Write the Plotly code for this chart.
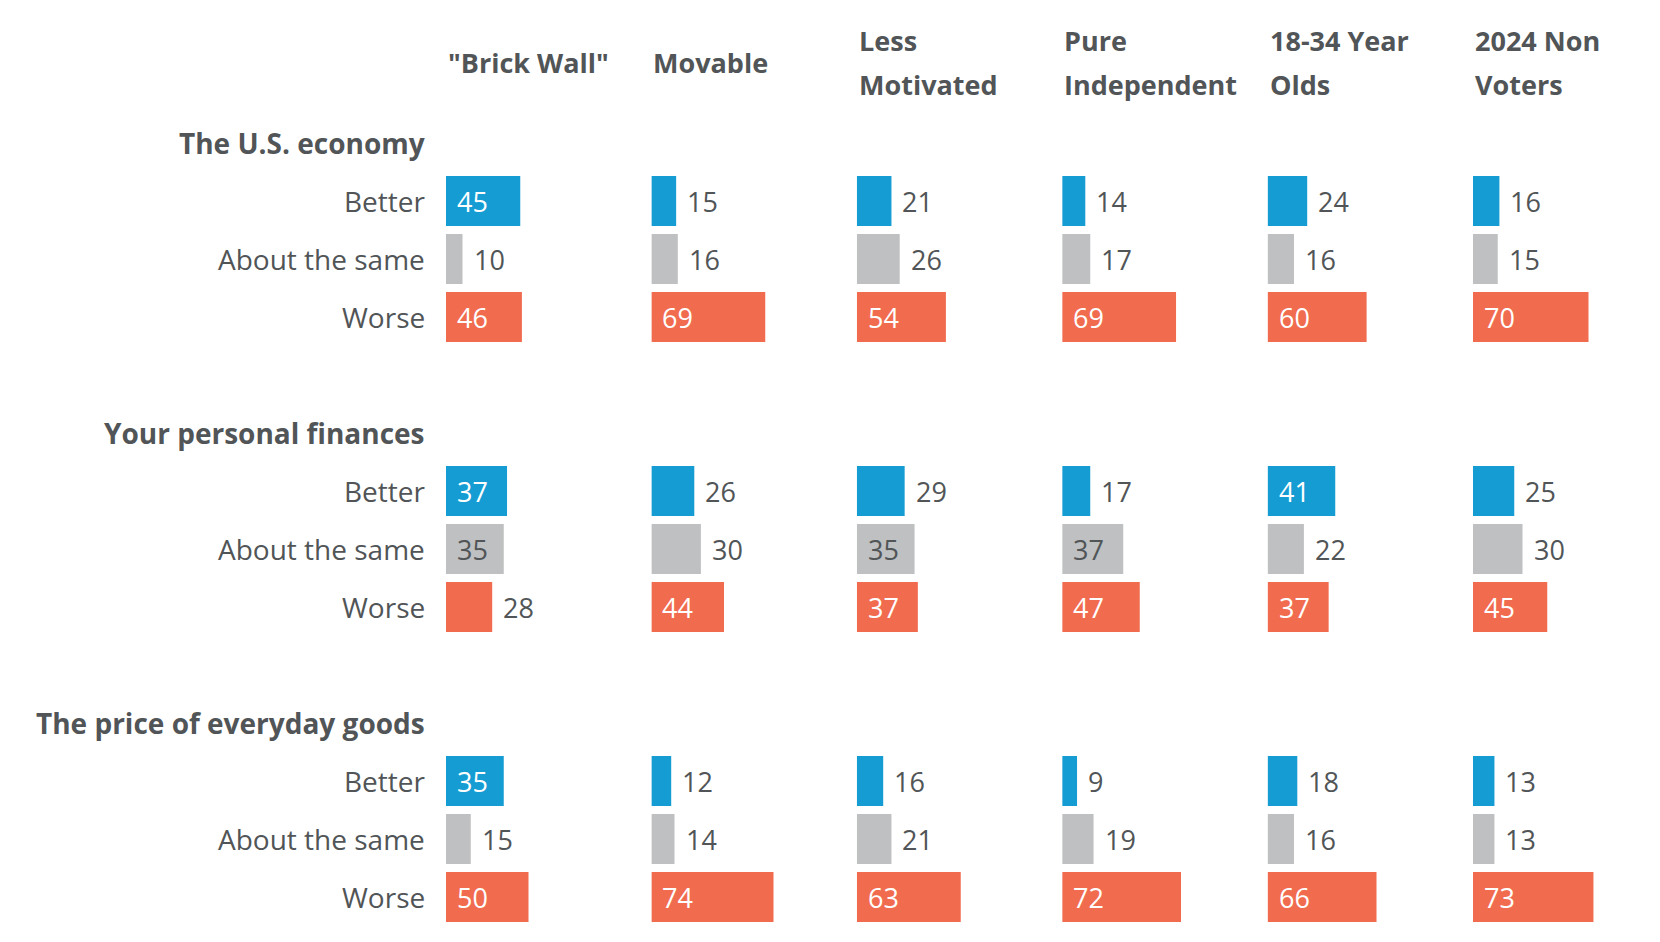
import plotly.graph_objects as go

# survey groups (column headers) and question topics
groups = ['"Brick Wall"', "Movable", "Less<br>Motivated", "Pure<br>Independent",
          "18-34 Year<br>Olds", "2024 Non<br>Voters"]
topics = ["The U.S. economy", "Your personal finances", "The price of everyday goods"]
responses = ["Better", "About the same", "Worse"]

# values per topic, one entry per group
better = [[45, 15, 21, 14, 24, 16],
          [37, 26, 29, 17, 41, 25],
          [35, 12, 16, 9, 18, 13]]
same = [[10, 16, 26, 17, 16, 15],
        [35, 30, 35, 37, 22, 30],
        [15, 14, 21, 19, 16, 13]]
worse = [[46, 69, 54, 69, 60, 70],
         [28, 44, 37, 47, 37, 45],
         [50, 74, 63, 72, 66, 73]]

# the html page keeps the default 8px body margin, so lay out in page pixels minus it
OFF = 8
W, H = 1660 - OFF, 942 - OFF
COLORS = {"Better": "#149cd3", "About the same": "#bec0c1", "Worse": "#f16b4f"}
INSIDE_TEXT = {"Better": "white", "About the same": "#515557", "Worse": "white"}
TEXT = "#515557"
FONT = "Open Sans"
FS = 27          # numbers and column headers
FS_LEFT = 28     # row labels and topic titles
PX_PER_UNIT = 1.65
COL_LEFT, COL_STEP, COL_W = 446 - OFF, 205.4, 185
ROW0, ROW_STEP = 143 - OFF, 58    # pixel y of first topic title, slot pitch
LABEL_RIGHT = 427 - OFF

series = {"Better": better, "About the same": same, "Worse": worse}

fig = go.Figure()
annotations = []


def slot_of(topic_i, resp_i):
    return topic_i * 5 + 1 + resp_i


for c, grp in enumerate(groups):
    xa = "x" if c == 0 else f"x{c + 1}"
    for r, resp in enumerate(responses):
        vals = [series[resp][t][c] for t in range(len(topics))]
        ys = [slot_of(t, r) for t in range(len(topics))]
        fig.add_trace(go.Bar(x=vals, y=ys, orientation="h", xaxis=xa, yaxis="y",
                             marker=dict(color=COLORS[resp], line=dict(width=0)),
                             width=50 / ROW_STEP, showlegend=False, hoverinfo="x"))
        for v, yv in zip(vals, ys):
            inside = v >= 33
            annotations.append(dict(
                xref=xa, yref="y", x=0 if inside else v, y=yv, text=str(v),
                showarrow=False, xanchor="left", xshift=9,
                font=dict(family=FONT, size=FS,
                          color=INSIDE_TEXT[resp] if inside else TEXT)))

    # column header (one or two lines)
    lines = grp.split("<br>")
    if len(lines) == 1:
        ys_h = [(62 - OFF - ROW0) / ROW_STEP]
    else:
        ys_h = [(40 - OFF - ROW0) / ROW_STEP, (84 - OFF - ROW0) / ROW_STEP]
    for ln, yh in zip(lines, ys_h):
        annotations.append(dict(
            xref=xa, yref="y", x=0, y=yh, text=f"<b>{ln}</b>", showarrow=False,
            xanchor="left", font=dict(family=FONT, size=FS, color=TEXT)))

# topic titles and response labels on the left
for t, topic in enumerate(topics):
    annotations.append(dict(
        xref="paper", yref="y", x=LABEL_RIGHT / W, y=t * 5, text=f"<b>{topic}</b>",
        showarrow=False, xanchor="right",
        font=dict(family=FONT, size=FS_LEFT, color=TEXT)))
    for r, resp in enumerate(responses):
        annotations.append(dict(
            xref="paper", yref="y", x=LABEL_RIGHT / W, y=slot_of(t, r), text=resp,
            showarrow=False, xanchor="right",
            font=dict(family=FONT, size=FS_LEFT, color=TEXT)))

layout = dict(
    width=W, height=H, margin=dict(l=0, r=0, t=0, b=0),
    plot_bgcolor="white", paper_bgcolor="white", barmode="overlay",
    yaxis=dict(range=[(H - ROW0) / ROW_STEP, -ROW0 / ROW_STEP], domain=[0, 1],
               visible=False, fixedrange=True),
    annotations=annotations,
)
for c in range(len(groups)):
    key = "xaxis" if c == 0 else f"xaxis{c + 1}"
    left = COL_LEFT + COL_STEP * c
    layout[key] = dict(domain=[left / W, (left + COL_W) / W],
                       range=[0, COL_W / PX_PER_UNIT], visible=False,
                       anchor="y", fixedrange=True)
fig.update_layout(**layout)

fig.write_html("out.html")
